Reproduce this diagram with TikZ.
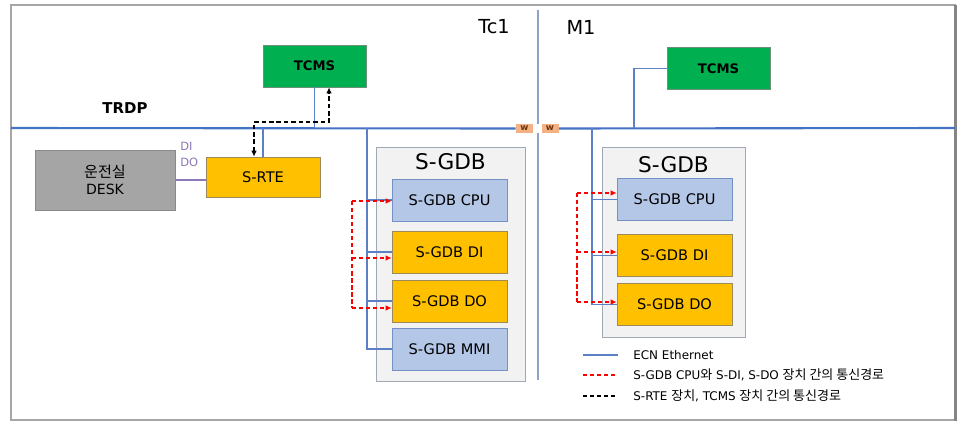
\documentclass[tikz,border=0pt]{standalone}
\usepackage{fontspec}
\usepackage{tikz}
\usetikzlibrary{arrows.meta}
\setmainfont{DejaVu Sans}
\newfontfamily\kr{Noto Sans CJK KR}
\newcommand{\krl}[1]{{\kr\fontsize{7.4}{8}\selectfont #1}}

\begin{document}
\begin{tikzpicture}[x = 0.02cm, y = -0.02cm,
    box/.style = {draw, inner sep = 0pt, minimum width = 2.3cm, minimum height = 0.84cm,
      font = \fontsize{8.3}{9}\selectfont},
    gdbframe/.style = {draw = gdbline, fill = gdbfill, inner sep = 0pt},
    tcms/.style = {draw = tcmsline, fill = tcmsgreen, inner sep = 0pt, minimum width = 2.06cm,
      minimum height = 0.84cm, font = \fontsize{7.5}{8}\selectfont\bfseries},
    wbox/.style = {fill = wfill, inner sep = 0pt, minimum width = 0.34cm, minimum height = 0.18cm,
      text = wtext, font = \fontsize{5}{5}\selectfont\bfseries},
    lbl/.style = {inner sep = 0pt},
    trdp/.style = {draw = busblue, line width = 1.2pt},
    ecn/.style = {draw = ecnblue, line width = 0.75pt},
    redline/.style = {draw = red, line width = 0.9pt, dash pattern = on 2.4pt off 1.6pt},
    redpath/.style = {redline, -{Latex[length = 3.4pt, width = 3.2pt]}},
    blackpath/.style = {draw = black, line width = 0.9pt, dash pattern = on 2.6pt off 1.6pt,
      {Latex[length = 3.4pt, width = 3.2pt]}-{Latex[length = 3.4pt, width = 3.2pt]}},
    legend/.style = {inner sep = 0pt, anchor = west, font = \fontsize{6.8}{7.5}\selectfont}]

  \definecolor{busblue}{HTML}{4472C4}
  \definecolor{ecnblue}{HTML}{5B80C5}
  \definecolor{divline}{HTML}{8FA3C9}
  \definecolor{tcmsgreen}{HTML}{00B050}
  \definecolor{tcmsline}{HTML}{6E8F78}
  \definecolor{gdbyellow}{HTML}{FFC000}
  \definecolor{yellowline}{HTML}{9C8A5A}
  \definecolor{cpublue}{HTML}{B4C7E7}
  \definecolor{cpuline}{HTML}{7490C4}
  \definecolor{deskgray}{HTML}{A5A5A5}
  \definecolor{deskline}{HTML}{8A8A8A}
  \definecolor{gdbfill}{HTML}{F2F2F2}
  \definecolor{gdbline}{HTML}{A0A8B4}
  \definecolor{wfill}{HTML}{F4B183}
  \definecolor{wtext}{HTML}{6B3510}
  \definecolor{dipurple}{HTML}{8D78B8}
  \definecolor{framegray}{HTML}{A6A6A6}

  \useasboundingbox (0,0) rectangle (964,434);
  \draw[framegray, line width = 1pt] (11,5) rectangle (955,420);
  \draw[framegray!80!black, line width = 1.2pt] (955.5,5) -- (955.5,420.5);

  % car labels and divider
  \node[lbl, font = \fontsize{11}{12}\selectfont] (tc1) at (494,27) {Tc1};
  \node[lbl, font = \fontsize{11}{12}\selectfont] (m1) at (581,27) {M1};
  \node[lbl, font = \fontsize{8.5}{9}\selectfont\bfseries] (trdpLbl) at (125,108) {TRDP};

  \node[wbox] (wA) at (524.5,128.5) {w};
  \node[wbox] (wB) at (550,128.5) {w};

  \coordinate (divTop) at (538,10);
  \coordinate (divBot) at (538,380);
  \draw[divline, line width = 0.6pt] (divTop) -- (divTop |- wA.north);
  \draw[divline, line width = 0.6pt] (divTop |- wA.south) -- (divBot);

  \coordinate (busL) at (11,128);
  \coordinate (busR) at (955,128);
  \draw[trdp] (busL) -- (wA);
  \draw[trdp] (wB) -- (busR);

  % Tc1 car
  \node[tcms] (tcmsA) at (314.5,66) {TCMS};
  \node[draw = yellowline, fill = gdbyellow, inner sep = 0pt, minimum width = 2.28cm,
    minimum height = 0.8cm, font = \fontsize{8.3}{9}\selectfont] (srte) at (263,177) {S-RTE};
  \node[draw = deskline, fill = deskgray, inner sep = 0pt, minimum width = 2.8cm,
    minimum height = 1.2cm, align = center, font = \fontsize{8}{9.5}\selectfont]
    (desk) at (105,180) {{\kr\fontsize{8.6}{9.5}\selectfont 운전실}\\DESK};
  \node[lbl, anchor = west, text = dipurple, font = \fontsize{6.5}{7}\selectfont] (diLbl) at (180,146) {DI};
  \node[lbl, anchor = west, text = dipurple, font = \fontsize{6.5}{7}\selectfont] (doLbl) at (180,162) {DO};

  \draw[ecn] (tcmsA.south) -- (tcmsA.south |- busL);
  \draw[ecn] (srte.north) -- (srte.north |- busL);
  \draw[dipurple, line width = 0.7pt] (desk.east) -- (desk.east -| srte.west);

  \coordinate (bkA) at (254,122);
  \coordinate (bkB) at (329,122);
  \draw[blackpath] (srte.north -| bkA) -- (bkA) -- (bkB) -- (tcmsA.south -| bkB);

  \node[gdbframe, minimum width = 2.98cm, minimum height = 4.68cm] (gdbA) at (450.5,264) {};
  \node[lbl, font = \fontsize{12.3}{13}\selectfont] (gdbAtitle) at (450.5,162) {S-GDB};
  \foreach \n/\t/\c/\l/\y in {cpuA/S-GDB CPU/cpublue/cpuline/200,
    diA/S-GDB DI/gdbyellow/yellowline/252,
    doA/S-GDB DO/gdbyellow/yellowline/301,
    mmiA/S-GDB MMI/cpublue/cpuline/349}
    \node[box, fill = \c, draw = \l] (\n) at (449.5,\y) {\t};

  \coordinate (tapA) at (367,128);
  \draw[ecn] (tapA) |- (mmiA.west);
  \foreach \n in {cpuA,diA,doA}
    \draw[ecn] (\n.west) -- (\n.west -| tapA);

  \coordinate (redTopA) at (352,201);
  \coordinate (redMidA) at (352,258);
  \coordinate (redBotA) at (352,308);
  \draw[redline] (redTopA) -- (redBotA);
  \draw[redpath] (redTopA) -- (redTopA -| cpuA.west);
  \draw[redpath] (redMidA) -- (redMidA -| diA.west);
  \draw[redpath] (redBotA) -- (redBotA -| doA.west);

  % M1 car
  \node[tcms] (tcmsB) at (718.5,68.5) {TCMS};
  \coordinate (tapC) at (634,128);
  \draw[ecn] (tcmsB.west) -| (tapC);

  \node[gdbframe, minimum width = 2.86cm, minimum height = 3.8cm] (gdbB) at (673.5,242) {};
  \node[lbl, font = \fontsize{12.3}{13}\selectfont] (gdbBtitle) at (673.5,165) {S-GDB};
  \foreach \n/\t/\c/\l/\y in {cpuB/S-GDB CPU/cpublue/cpuline/199.5,
    diB/S-GDB DI/gdbyellow/yellowline/255.5,
    doB/S-GDB DO/gdbyellow/yellowline/304.5}
    \node[box, fill = \c, draw = \l] (\n) at (674.5,\y) {\t};

  \coordinate (tapB) at (592,128);
  \draw[ecn] (tapB) |- (doB.west);
  \foreach \n in {cpuB,diB}
    \draw[ecn] (\n.west) -- (\n.west -| tapB);

  \coordinate (redTopB) at (577,193);
  \coordinate (redMidB) at (577,252);
  \coordinate (redBotB) at (577,302);
  \draw[redline] (redTopB) -- (redBotB);
  \draw[redpath] (redTopB) -- (redTopB -| cpuB.west);
  \draw[redpath] (redMidB) -- (redMidB -| diB.west);
  \draw[redpath] (redBotB) -- (redBotB -| doB.west);

  % legend
  \node[legend] (lgEcn) at (633,355) {ECN Ethernet};
  \node[legend] (lgRed) at (633,375) {S-GDB CPU\krl{와} S-DI, S-DO \krl{장치 간의 통신경로}};
  \node[legend] (lgBlack) at (633,396) {S-RTE \krl{장치}, TCMS \krl{장치 간의 통신경로}};
  \draw[ecn] ([xshift = -1.0cm]lgEcn.west) -- ([xshift = -0.3cm]lgEcn.west);
  \draw[redline] ([xshift = -1.0cm]lgRed.west) -- ([xshift = -0.3cm]lgRed.west);
  \draw[black, line width = 0.9pt, dash pattern = on 2.4pt off 1.6pt]
    ([xshift = -1.0cm]lgBlack.west) -- ([xshift = -0.3cm]lgBlack.west);

\end{tikzpicture}
\end{document}
